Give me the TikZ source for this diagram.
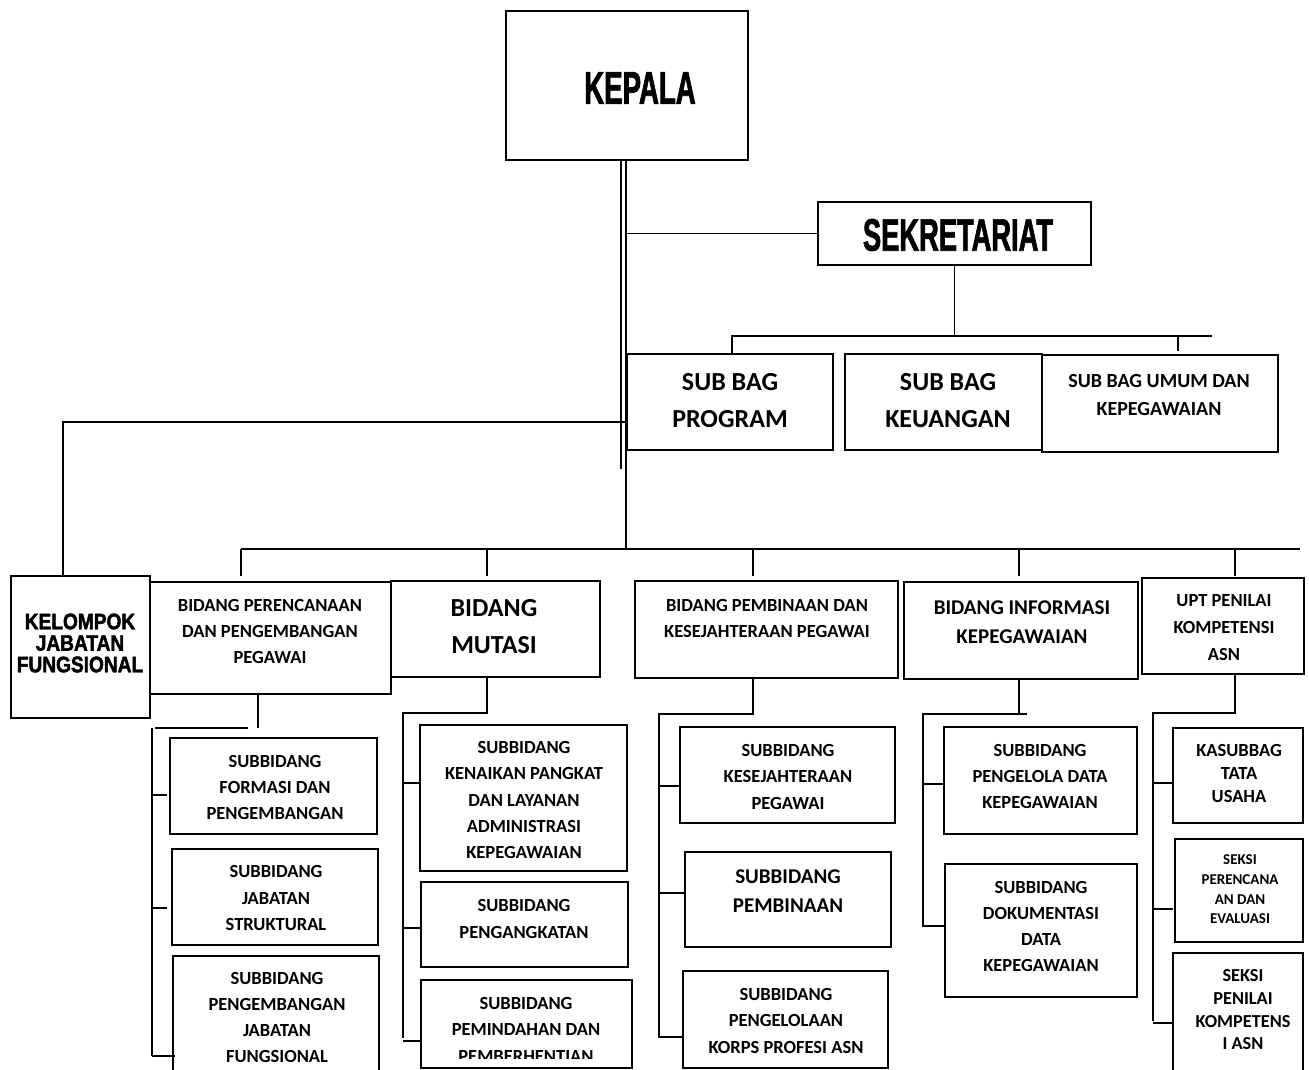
\documentclass[tikz,border=0pt]{standalone}
\usepackage{fontspec}
\setmainfont{Carlito}
\newfontfamily\kepfont{Liberation Sans}[FakeStretch=0.6, FakeBold=1.5]
\newfontfamily\kelfont{Liberation Sans}[FakeStretch=0.85, FakeBold=2]
\usetikzlibrary{fit}
\tikzset{
  box/.style={draw, line width=1.5pt, inner sep=0pt},
  txt/.style 2 args={font=\fontsize{#1}{#2}\selectfont\bfseries, align=center, inner sep=0pt},
  head/.style={font=\kepfont\fontsize{#1}{#1}\selectfont\bfseries, inner sep=0pt}
}

\begin{document}
\begin{tikzpicture}[x=1pt, y=-1pt, line width=1.5pt]
\useasboundingbox (0,0) rectangle (1309,1070);
\clip (0,0) rectangle (1309,1070);
\foreach \n/\a/\b/\c/\d in {kepala/506/11/748/160, sekretariat/818/202/1091/265,
  program/627/354/833/450, keuangan/845/354/1042/450, umum/1042/355/1278/452,
  kelompok/11/576/150/718, perenc/150/582/391/694, mutasi/391/581/600/677,
  pembinaan/635/581/898/678, informasi/904/582/1138/679, upt/1142/578/1304/674,
  formasi/170/738/377/834, struktural/172/849/378/945, jabfung/173/956/379/1090,
  kenaikan/420/725/627/871, pengangkatan/421/882/628/967, pemindahan/421/980/632/1068,
  kesejahteraan/680/727/895/823, subpembinaan/685/852/891/947, korps/683/971/888/1068,
  pengelola/944/727/1137/834, dokumentasi/945/864/1137/997,
  kasubbag/1173/728/1303/823, seksiperenc/1175/839/1303/942, seksipenilai/1173/953/1303/1090}
  \node[box, fit={(\a,\b) (\c,\d)}] (\n) {};

\node[head=46] (kepala-t) at (640,88) {KEPALA};
\node[head=45.5] (sekretariat-t) at (958,235) {SEKRETARIAT};
\node[txt={26}{37}] (program-t) at (730,401) {SUB BAG\\PROGRAM};
\node[txt={26}{37}] (keuangan-t) at (948,401) {SUB BAG\\KEUANGAN};
\node[txt={20}{28}] (umum-t) at (1159,395) {SUB BAG UMUM DAN\\KEPEGAWAIAN};
\node[align=center, inner sep=0pt, font=\kelfont\fontsize{22.5}{21.5}\selectfont\bfseries] (kelompok-t) at (80,643) {KELOMPOK\\JABATAN\\FUNGSIONAL};
\node[txt={18.5}{26}] (perenc-t) at (270,631) {BIDANG PERENCANAAN\\DAN PENGEMBANGAN\\PEGAWAI};
\node[txt={26}{37}] (mutasi-t) at (494,627) {BIDANG\\MUTASI};
\node[txt={18.5}{26}] (pembinaan-t) at (767,618) {BIDANG PEMBINAAN DAN\\KESEJAHTERAAN PEGAWAI};
\node[txt={21}{29}] (informasi-t) at (1022,622) {BIDANG INFORMASI\\KEPEGAWAIAN};
\node[txt={18.5}{27}] (upt-t) at (1224,628) {UPT PENILAI\\KOMPETENSI\\ASN};
\node[txt={18.5}{26}] (formasi-t) at (275,787) {SUBBIDANG\\FORMASI DAN\\PENGEMBANGAN};
\node[txt={18.5}{26.5}] (struktural-t) at (276,898) {SUBBIDANG\\JABATAN\\STRUKTURAL};
\node[txt={18.5}{26.3}] (jabfung-t) at (277,1017.5) {SUBBIDANG\\PENGEMBANGAN\\JABATAN\\FUNGSIONAL};
\node[txt={18.5}{26.2}] (kenaikan-t) at (524,800) {SUBBIDANG\\KENAIKAN PANGKAT\\DAN LAYANAN\\ADMINISTRASI\\KEPEGAWAIAN};
\node[txt={18.5}{27}] (pengangkatan-t) at (524,918.5) {SUBBIDANG\\PENGANGKATAN};
\begin{scope}
  \clip (421,980) rectangle (632,1058);
  \node[txt={18.5}{26.5}] (pemindahan-t) at (526,1029.5) {SUBBIDANG\\PEMINDAHAN DAN\\PEMBERHENTIAN};
\end{scope}
\node[txt={18.5}{26.5}] (kesejahteraan-t) at (788,776.5) {SUBBIDANG\\KESEJAHTERAAN\\PEGAWAI};
\node[txt={21}{29}] (subpembinaan-t) at (788,891.5) {SUBBIDANG\\PEMBINAAN};
\node[txt={18.5}{26.5}] (korps-t) at (786,1020.5) {SUBBIDANG\\PENGELOLAAN\\KORPS PROFESI ASN};
\node[txt={18.5}{26}] (pengelola-t) at (1040,776) {SUBBIDANG\\PENGELOLA DATA\\KEPEGAWAIAN};
\node[txt={18.5}{26.3}] (dokumentasi-t) at (1041,926.5) {SUBBIDANG\\DOKUMENTASI\\DATA\\KEPEGAWAIAN};
\node[txt={18.5}{23}] (kasubbag-t) at (1239,773) {KASUBBAG\\TATA\\USAHA};
\node[txt={15}{19.7}] (seksiperenc-t) at (1240,889.5) {SEKSI\\PERENCANA\\AN DAN\\EVALUASI};
\node[txt={18.3}{22.7}] (seksipenilai-t) at (1243,1010) {SEKSI\\PENILAI\\KOMPETENS\\I ASN};

\draw ([xshift=-6pt]kepala.south) -- ++(0,308);
\draw ([xshift=-1pt]kepala.south) -- ++(0,389) coordinate (bus);
\draw (sekretariat.west) -- ++(-192,0);
\draw (sekretariat.south) -- ++(0,70) coordinate (sb);
\draw (sb) -- ++(-222.5,0) -- ++(0,19);
\draw (sb) -- ++(257.5,0);
\draw (1178,335) -- ++(0,16);
\draw (626,422) -| ([xshift=-17.5pt]kelompok.north);
\draw (241,549) -- (1300,549);
\foreach \x in {241,487,753,1019,1235}
  \draw (\x,549) -- ++(0,27);

\draw ([xshift=-12.5pt]perenc.south) -- ++(0,33);
\draw (155,728) -- (248,728);
\draw (152,728) -- (152,1056);
\foreach \y/\w in {795/15, 908/15, 1056/23}
  \draw (152,\y) -- ++(\w,0);

\draw ([xshift=-8.5pt]mutasi.south) -- ++(0,35) -- ++(-84,0) -- ++(0,325);
\foreach \y in {783,928,1041}
  \draw (403,\y) -- ++(17,0);

\draw ([xshift=-13.5pt]pembinaan.south) -- ++(0,35) -- ++(-94,0) -- ++(0,324);
\foreach \y/\w in {786/21, 893/25, 1037/24}
  \draw (659,\y) -- ++(\w,0);

\draw ([xshift=-2pt]informasi.south) -- ++(0,34);
\draw (1027,714) -- (923,714) -- (923,926) -- (944,926);
\draw (923,784) -- ++(22,0);

\draw ([xshift=12pt]upt.south) -- ++(0,38) -- ++(-82,0) -- ++(0,308);
\foreach \y in {783,909,1023}
  \draw (1153,\y) -- ++(20,0);
\end{tikzpicture}
\end{document}
